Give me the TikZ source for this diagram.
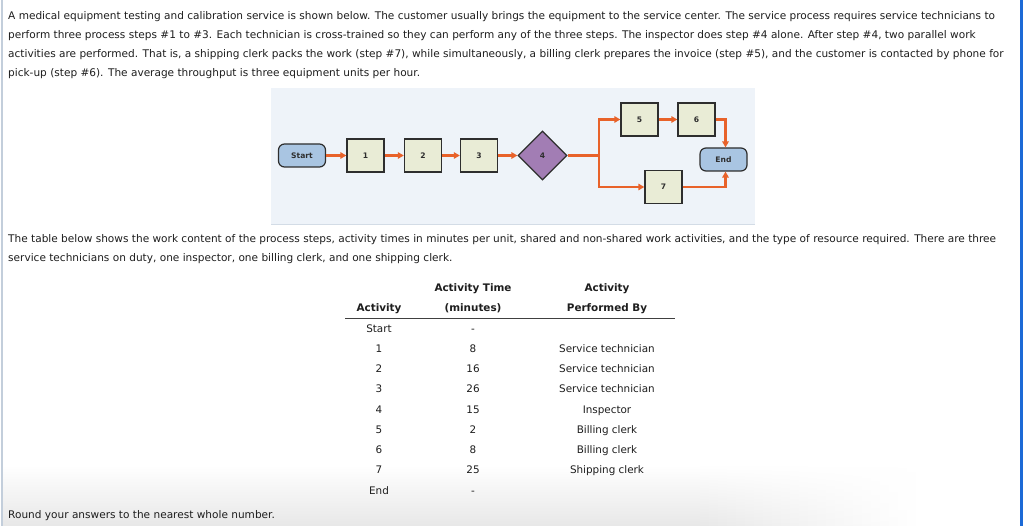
\documentclass[tikz,border=0pt]{standalone}
\usepackage{fontspec}
\setmainfont{DejaVu Sans}
\usetikzlibrary{shapes.geometric,arrows.meta,fadings}
\definecolor{txt}{HTML}{1E1E1E}
\definecolor{panel}{HTML}{EEF3F9}
\definecolor{paneledge}{HTML}{D3DCE6}
\definecolor{flow}{HTML}{E8622A}
\definecolor{boxfill}{HTML}{E9ECD6}
\definecolor{termfill}{HTML}{A9C5E2}
\definecolor{diafill}{HTML}{A27DB4}
\definecolor{edge}{HTML}{2E2E2E}
\definecolor{leftbar}{HTML}{C3CEDB}
\definecolor{rightbar}{HTML}{1C6AD6}
\definecolor{shadowc}{HTML}{E8E8E8}
\begin{document}
\begin{tikzpicture}[x=1pt,y=-1pt,
  para/.style={anchor=base west, inner sep=0pt, font=\fontsize{10.55}{12}\selectfont, text=txt},
  cell/.style={anchor=base, inner sep=0pt, font=\fontsize{10.4}{12}\selectfont, text=txt},
  head/.style={cell, font=\fontsize{10.4}{12}\bfseries\selectfont},
  proc/.style={draw=edge, line width=1.4pt, fill=boxfill, minimum width=37pt, minimum height=33pt, inner sep=0pt, font=\fontsize{7.6}{8}\bfseries\selectfont, text=edge},
  term/.style={draw=edge, line width=1.2pt, fill=termfill, rounded corners=6pt, minimum width=47pt, minimum height=23pt, inner sep=0pt, font=\fontsize{7.6}{8}\bfseries\selectfont, text=edge},
  dia/.style={diamond, draw=edge, line width=1.2pt, fill=diafill, minimum width=49pt, minimum height=49pt, inner sep=0pt, font=\fontsize{7.6}{8}\bfseries\selectfont, text=edge},
  flowline/.style={draw=flow, line width=2.6pt},
  flowarrow/.style={flowline, -{Triangle[length=6pt,width=6.5pt]}}
]
\fill[white] (0,0) rectangle (1024,526);
\useasboundingbox (0,0) rectangle (1024,526);
% bottom shadow
\fill[shadowc, path fading=north] (3,466) rectangle (700,526);
\foreach \i in {0,...,23}{
  \pgfmathsetmacro{\op}{1-(\i+0.5)/24}
  \fill[shadowc, fill opacity=\op, path fading=north] ({700+\i*9},466) rectangle ({709+\i*9},526);
}
% page borders
\draw[leftbar, line width=2pt] (2,0) -- (2,526);
\draw[rightbar, line width=3pt] (1021.5,0) -- (1021.5,526);

% paragraph 1
\node[para] (p1) at (8,20) {A medical equipment testing and calibration service is shown below. The customer usually brings the equipment to the service center. The service process requires service technicians to};
\node[para] (p2) at (8,39) {perform three process steps \#1 to \#3. Each technician is cross-trained so they can perform any of the three steps. The inspector does step \#4 alone. After step \#4, two parallel work};
\node[para] (p3) at (8,58) {activities are performed. That is, a shipping clerk packs the work (step \#7), while simultaneously, a billing clerk prepares the invoice (step \#5), and the customer is contacted by phone for};
\node[para] (p4) at (8,77) {pick-up (step \#6). The average throughput is three equipment units per hour.};

% diagram panel
\fill[panel] (271,88) rectangle (755,225);
\draw[paneledge, line width=1pt] (271,225) -- (755,225);

\node[term] (start) at (302,155.5) {Start};
\node[proc] (n1) at (365.5,155.5) {1};
\node[proc] (n2) at (423,155.5) {2};
\node[proc] (n3) at (479,155.5) {3};
\node[dia] (n4) at (542.5,155.5) {4};
\node[proc] (n5) at (639.5,119.5) {5};
\node[proc] (n6) at (696.5,119.5) {6};
\node[proc] (n7) at (663.5,187) {7};
\node[term] (end) at (723.5,159.5) {End};
\coordinate (j) at (599,155.5);

\draw[flowarrow] (start) -- (n1);
\draw[flowarrow] (n1) -- (n2);
\draw[flowarrow] (n2) -- (n3);
\draw[flowarrow] (n3) -- (n4);
\draw[flowline] (n4.east) -- (j);
\draw[flowarrow] (j) |- (n5.west);
\draw[flowarrow] (j) |- (n7.west);
\draw[flowarrow] (n5) -- (n6);
\draw[flowarrow] (n6.east) -| ([xshift=2pt]end.north);
\draw[flowarrow] (n7.east) -| ([xshift=2pt]end.south);

% paragraph 2
\node[para] (q1) at (8,243) {The table below shows the work content of the process steps, activity times in minutes per unit, shared and non-shared work activities, and the type of resource required. There are three};
\node[para] (q2) at (8,262) {service technicians on duty, one inspector, one billing clerk, and one shipping clerk.};

% table
\node[head] (h2a) at (473,291) {Activity Time};
\node[head] (h3a) at (607,291) {Activity};
\node[head] (h1) at (379,311) {Activity};
\node[head] (h2b) at (473,311) {(minutes)};
\node[head] (h3b) at (607,311) {Performed By};
\draw[black!75, line width=0.9pt] (345,318) -- (675,318);

\node[cell] (a0) at (379,332) {Start};
\node[cell] (t0) at (473,332) {-};
\node[cell] (a1) at (379,352) {1};
\node[cell] (t1) at (473,352) {8};
\node[cell] (r1) at (607,352) {Service technician};
\node[cell] (a2) at (379,372) {2};
\node[cell] (t2) at (473,372) {16};
\node[cell] (r2) at (607,372) {Service technician};
\node[cell] (a3) at (379,392) {3};
\node[cell] (t3) at (473,392) {26};
\node[cell] (r3) at (607,392) {Service technician};
\node[cell] (a4) at (379,413) {4};
\node[cell] (t4) at (473,413) {15};
\node[cell] (r4) at (607,413) {Inspector};
\node[cell] (a5) at (379,433) {5};
\node[cell] (t5) at (473,433) {2};
\node[cell] (r5) at (607,433) {Billing clerk};
\node[cell] (a6) at (379,453) {6};
\node[cell] (t6) at (473,453) {8};
\node[cell] (r6) at (607,453) {Billing clerk};
\node[cell] (a7) at (379,473) {7};
\node[cell] (t7) at (473,473) {25};
\node[cell] (r7) at (607,473) {Shipping clerk};
\node[cell] (a8) at (379,494) {End};
\node[cell] (t8) at (473,494) {-};

\node[para] (last) at (8,518) {Round your answers to the nearest whole number.};
\end{tikzpicture}
\end{document}
